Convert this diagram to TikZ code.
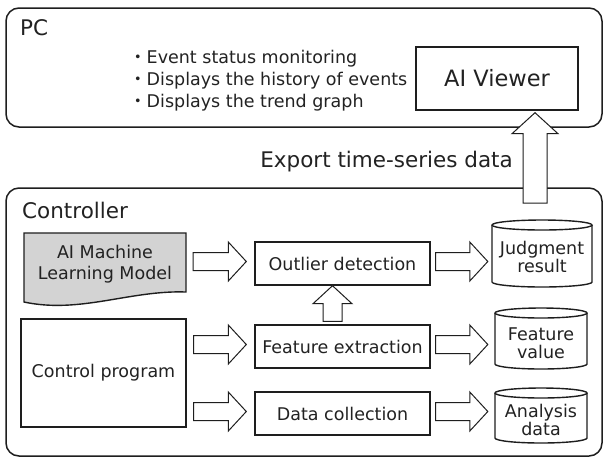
\documentclass[tikz,border=0pt]{standalone}
\usepackage{fontspec}
\setmainfont{DejaVu Sans}
\newfontfamily\cjk{Noto Sans CJK JP}
\usetikzlibrary{calc}
\definecolor{lc}{HTML}{1E1E1E}
\definecolor{tc}{HTML}{222222}
\definecolor{docfill}{HTML}{D3D3D3}
\newcommand\harr[2]{\draw[arr] let \p1=(#1), \p2=(#2) in
  (\x1,\y1+9pt) -- (\x2-18pt,\y1+9pt) -- (\x2-18pt,\y1+19.5pt) -- (\x2,\y1)
  -- (\x2-18pt,\y1-19.5pt) -- (\x2-18pt,\y1-9pt) -- (\x1,\y1-9pt) -- cycle;}
\newcommand\varr[5]{\draw[arr] let \p1=(#1), \p2=(#2) in
  (\x1-#3pt,\y1) -- (\x1-#3pt,\y2-#5pt) -- (\x1-#4pt,\y2-#5pt) -- (\x1,\y2)
  -- (\x1+#4pt,\y2-#5pt) -- (\x1+#3pt,\y2-#5pt) -- (\x1+#3pt,\y1) -- cycle;}
\newcommand\cylout[4]{%
  \draw[cylline] ({(#1+#2)/2},-#3) ellipse [x radius={(#2-#1)/2}, y radius=5];
  \draw[cylline] (#1,-#3) -- (#1,-#4) arc[start angle=180,end angle=360,x radius={(#2-#1)/2},y radius=5] -- (#2,-#3);}
\begin{document}
\begin{tikzpicture}[x=1pt,y=1pt,
  outerbox/.style={draw=lc, line width=1.5pt, rounded corners=13pt, inner sep=0pt},
  box/.style={draw=lc, line width=1.4pt, inner sep=0pt, align=center, text=tc,
    font=\fontsize{17.5}{18}\selectfont},
  txt/.style={inner sep=0pt, align=center, text=tc, font=\fontsize{17.5}{18}\selectfont},
  lab/.style={inner sep=0pt, text=tc, font=\fontsize{21.5}{24}\selectfont},
  bul/.style={inner sep=0pt, text=tc, anchor=base west, font=\fontsize{17.5}{20}\selectfont},
  arr/.style={draw=lc, fill=white, line width=1pt, line join=miter},
  cylline/.style={draw=lc, line width=1.4pt},
  docshape/.style={draw=lc, fill=docfill, line width=1.4pt}]
\useasboundingbox[fill=white] (0,0) rectangle (604,-459);
% outer containers
\node[outerbox, minimum width=596pt, minimum height=119pt] (pcbox) at (304,-67.5) {};
\node[outerbox, minimum width=596pt, minimum height=268pt] (ctrl) at (304,-322) {};
\node[lab, anchor=base west] (pc) at (20,-35) {PC};
\node[lab, anchor=base west] (ctl) at (22,-218) {Controller};
% PC contents
\node[bul] (b1) at (129,-63) {{\cjk ・}Event status monitoring};
\node[bul] (b2) at (129,-85) {{\cjk ・}Displays the history of events};
\node[bul] (b3) at (129,-107) {{\cjk ・}Displays the trend graph};
\node[box, minimum width=162pt, minimum height=63pt, font=\fontsize{22.5}{24}\selectfont] (av) at (497,-78.5) {AI Viewer};
\node[lab, anchor=base east] (exp) at (513,-167) {Export time-series data};
% controller contents
\draw[docshape] (24,-233) -- (186,-233) -- (186,-292)
  .. controls (130,-290) and (80,-314) .. (24,-302) -- cycle;
\node[txt, minimum width=162pt, font=\fontsize{17.5}{21.5}\selectfont] (ml) at (105,-264) {AI Machine\\Learning Model};
\node[box, minimum width=165pt, minimum height=108pt] (cp) at (103.5,-373) {Control program};
\node[box, minimum width=175pt, minimum height=43pt] (od) at (342.5,-263.5) {Outlier detection};
\node[box, minimum width=175pt, minimum height=43pt] (fe) at (342.5,-346.5) {Feature extraction};
\node[box, minimum width=175pt, minimum height=43pt] (dc) at (342.5,-413.5) {Data collection};
% cylinders
\cylout{492}{592}{225}{282}
\cylout{495}{587}{313}{364}
\cylout{495}{587}{393}{438}
\node[txt, minimum width=100pt] (jr) at (542,-256.5) {Judgment\\result};
\node[txt, minimum width=92pt] (fv) at (541,-343) {Feature\\value};
\node[txt, minimum width=92pt] (ad) at (541,-420) {Analysis\\data};
% arrows
\harr{$(ml.east|-od.west)+(7,2)$}{$(od.west)+(-8,2)$}
\harr{$(cp.east|-fe.west)+(7,2)$}{$(fe.west)+(-8,2)$}
\harr{$(cp.east|-dc.west)+(7,2)$}{$(dc.west)+(-8,2)$}
\harr{$(od.east)+(5,2)$}{$(jr.west|-od.east)+(-4,2)$}
\harr{$(fe.east)+(5,2)$}{$(fv.west|-fe.east)+(-7,2)$}
\harr{$(dc.east)+(5,2)$}{$(ad.west|-dc.east)+(-7,2)$}
\varr{$(fe.north)+(-10,3)$}{$(od.south)+(-10,0)$}{9.5}{19.5}{18}
\coordinate (expstart) at (535,-203);
\varr{expstart}{$(av.south)+(38,-2)$}{12}{23}{21}
\end{tikzpicture}
\end{document}
